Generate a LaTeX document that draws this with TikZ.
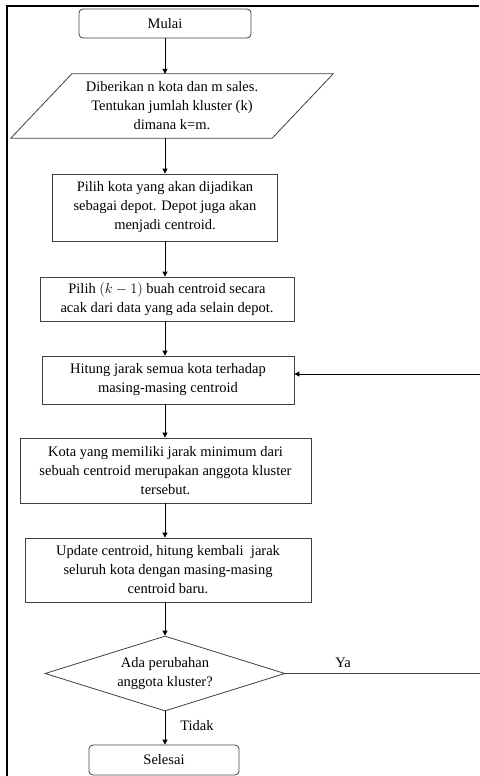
\documentclass[tikz,border=0pt]{standalone}
\usepackage{fontspec}
\setmainfont{Liberation Serif}
\usetikzlibrary{arrows.meta,shapes.geometric}

\begin{document}
\begin{tikzpicture}[x=1pt,y=-1pt,
    every node/.style={font=\fontsize{14.5}{19}\selectfont,align=center,inner sep=0pt},
    terminal/.style={draw=black!75,line width=0.8pt,rounded corners=4pt},
    proses/.style={draw=black!75,line width=0.8pt},
    keputusan/.style={draw=black!75,line width=0.8pt,diamond,aspect=3.2},
    panah/.style={draw,line width=0.9pt,-{Triangle[length=5pt,width=5pt]}}]

  \useasboundingbox (0,0) rectangle (479,776);

  \begin{scope}
    \node[terminal,minimum width=172,minimum height=29] (mulai) at (165,23.5) {Mulai};
    \node[minimum width=261,minimum height=64] (input) at (172,106)
      {Diberikan n kota dan m sales.\\Tentukan jumlah kluster (k)\\dimana k=m.};
    \node[proses,minimum width=225,minimum height=67] (depot) at (165,207.5)
      {Pilih kota yang akan dijadikan\\sebagai depot. Depot juga akan\\menjadi centroid.};
    \node[proses,minimum width=254,minimum height=44] (acak) at (167,299)
      {Pilih $(k-1)$ buah centroid secara\\acak dari data yang ada selain depot.};
    \node[proses,minimum width=252,minimum height=48] (hitung) at (168,380)
      {Hitung jarak semua kota terhadap\\masing-masing centroid};
    \node[proses,minimum width=291,minimum height=65] (anggota) at (165.5,470.5)
      {Kota yang memiliki jarak minimum dari\\sebuah centroid merupakan anggota kluster\\tersebut.};
    \node[proses,minimum width=286,minimum height=64] (update) at (168,570)
      {Update centroid, hitung kembali\ \ jarak\\seluruh kota dengan masing-masing\\centroid baru.};
    \node[keputusan,minimum width=240,minimum height=75] (cek) at (165,673.5)
      {Ada perubahan\\anggota kluster?};
    \node[terminal,minimum width=150,minimum height=30] (selesai) at (164,760)
      {Selesai};
  \end{scope}

  % parallelogram input
  \draw[black!75,line width=0.8pt]
    ([xshift=30.5pt]input.north west) -- ([xshift=30.5pt]input.north east)
    -- ([xshift=-30.5pt]input.south east) -- ([xshift=-30.5pt]input.south west) -- cycle;

  % labels
  \node (ya) at (343,663) {Ya};
  \node (tidak) at (197,726) {Tidak};

  % loop corners
  \coordinate (sudutbawah) at (482,673.5);
  \coordinate (sudutatas) at (482,374);

  \begin{scope}[every edge/.style={panah}]
    \path (mulai) edge (mulai |- input.north);
    \path (mulai |- input.south) edge (depot);
    \path (depot) edge (depot.south |- acak.north);
    \path (depot.south |- acak.south) edge (depot.south |- hitung.north);
    \path (depot.south |- hitung.south) edge (depot.south |- anggota.north);
    \path (depot.south |- anggota.south) edge (depot.south |- update.north);
    \path (depot.south |- update.south) edge (cek);
    \path (cek) edge (cek.south |- selesai.north);
    \path (sudutatas) edge (sudutatas -| hitung.east);
  \end{scope}

  \draw[black!75,line width=0.9pt] (cek.east) -- (sudutbawah) -- (sudutatas);

  % frame
  \draw[line width=2pt] (7,776) -- (7,6) -- (479,6);

\end{tikzpicture}
\end{document}
